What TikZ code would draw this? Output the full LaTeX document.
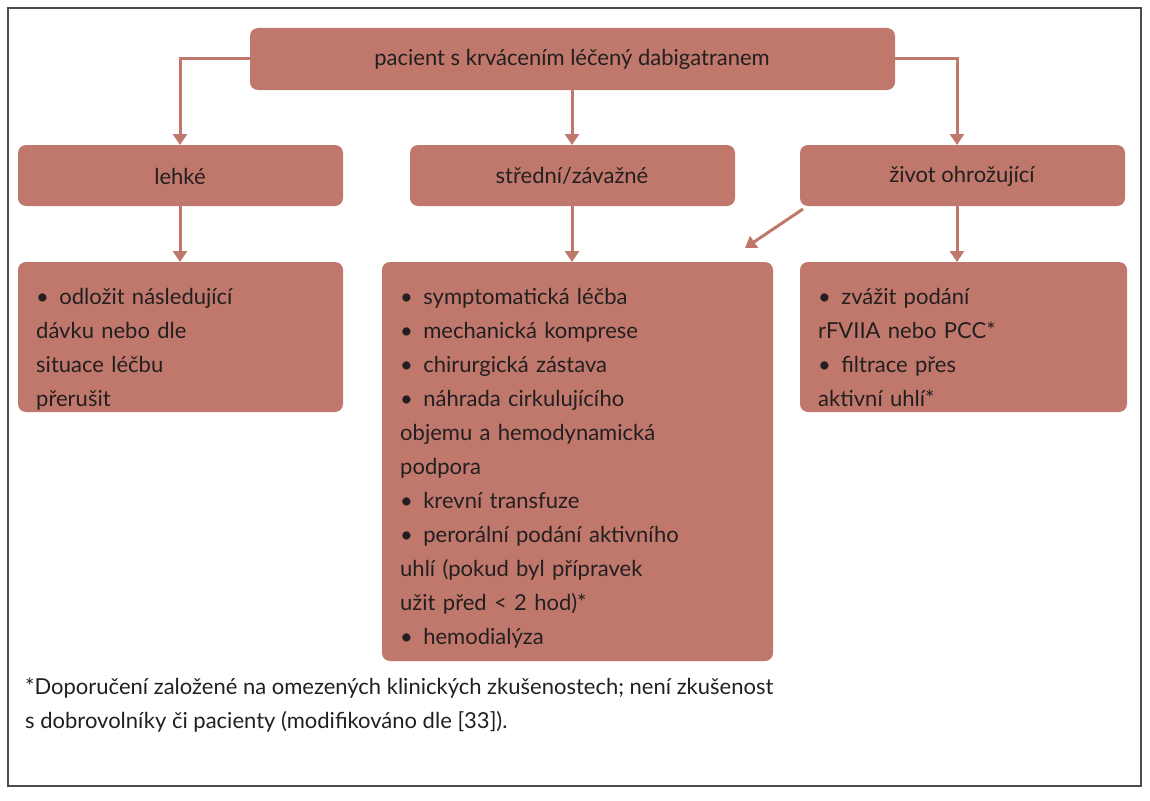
\documentclass[tikz,border=0pt]{standalone}
\usepackage{fontspec}
\setmainfont{Lato}
\usetikzlibrary{arrows.meta}
\definecolor{boxc}{HTML}{C0786C}
\definecolor{txt}{HTML}{231F20}
\newcommand{\itm}[1]{\par\hangindent=1.05em\hangafter=1\noindent\makebox[1.05em][l]{\textbullet}#1}
\tikzset{
  bx/.style={draw=boxc,fill=boxc,rounded corners=8pt,text=txt,font=\fontsize{22}{34}\selectfont},
  arr/.style={draw=boxc,line width=3pt,-{Triangle[length=11pt,width=14pt]}},
  lst/.style={bx,anchor=north west,align=left,inner sep=0pt,text width=#1}
}
\begin{document}
\begin{tikzpicture}[x=1pt,y=-1pt]
\useasboundingbox (0,0) rectangle (1150,800);
\draw[black!70,line width=1.2pt] (8,8) rectangle (1141,786);
\fill[boxc,rounded corners=8pt] (250,28) rectangle (895,90);
\node[text=txt,font=\fontsize{22}{34}\selectfont] (top) at (572,59) {pacient s krvácením léčený dabigatranem};
\coordinate (topL) at (250,59); \coordinate (topR) at (895,59);
\fill[boxc,rounded corners=8pt] (18,145) rectangle (343,206);
\node[text=txt,font=\fontsize{22}{34}\selectfont] (a) at (180,176) {lehké};
\fill[boxc,rounded corners=8pt] (410,145) rectangle (735,206);
\node[text=txt,font=\fontsize{22}{34}\selectfont] (b) at (572,176) {střední/závažné};
\fill[boxc,rounded corners=8pt] (800,145) rectangle (1125,206);
\node[text=txt,font=\fontsize{22}{34}\selectfont] (c) at (962,176) {život ohrožující};
\fill[boxc,rounded corners=8pt] (18,262) rectangle (343,412);
\fill[boxc,rounded corners=8pt] (382,262) rectangle (773,661);
\fill[boxc,rounded corners=8pt] (800,262) rectangle (1127,412);
\node[text=txt,font=\fontsize{22}{34}\selectfont,anchor=north west,align=left,text width=290pt,inner sep=0pt] (la) at (36,270) {%
\itm{odložit následující\\dávku nebo dle\\situace léčbu\\přerušit}};
\node[text=txt,font=\fontsize{22}{34}\selectfont,anchor=north west,align=left,text width=380pt,inner sep=0pt] (lb) at (400,270) {%
\itm{symptomatická léčba}
\itm{mechanická komprese}
\itm{chirurgická zástava}
\itm{náhrada cirkulujícího\\objemu a hemodynamická\\podpora}
\itm{krevní transfuze}
\itm{perorální podání aktivního\\uhlí (pokud byl přípravek\\užit před < 2 hod)*}
\itm{hemodialýza}};
\node[text=txt,font=\fontsize{22}{34}\selectfont,anchor=north west,align=left,text width=310pt,inner sep=0pt] (lc) at (818,270) {%
\itm{zvážit podání\\rFVIIA nebo PCC*}
\itm{filtrace přes\\aktivní uhlí*}};
\coordinate (aT) at (180,145); \coordinate (bT) at (572,145); \coordinate (cT) at (957,145);
\coordinate (aB) at (180,206); \coordinate (bB) at (572,206); \coordinate (cB) at (957,206);
\coordinate (laT) at (180,262); \coordinate (lbT) at (572,262); \coordinate (lcT) at (957,262);
\coordinate (topB) at (572,90);
\coordinate (cD) at (803,209); \coordinate (lbD) at (745,248);
\draw[arr] (topL) -| (aT);
\draw[arr] (topR) -| (cT);
\draw[arr] (topB) -- (bT);
\draw[arr] (aB) -- (laT);
\draw[arr] (bB) -- (lbT);
\draw[arr] (cB) -- (lcT);
\draw[arr] (cD) -- (lbD);
\node[text=txt,font=\fontsize{22}{34}\selectfont,anchor=north west,align=left,inner sep=0pt] (fn) at (25,678) {*Doporučení založené na omezených klinických zkušenostech; není zkušenost\\s dobrovolníky či pacienty (modifikováno dle [33]).};
\end{tikzpicture}
\end{document}
